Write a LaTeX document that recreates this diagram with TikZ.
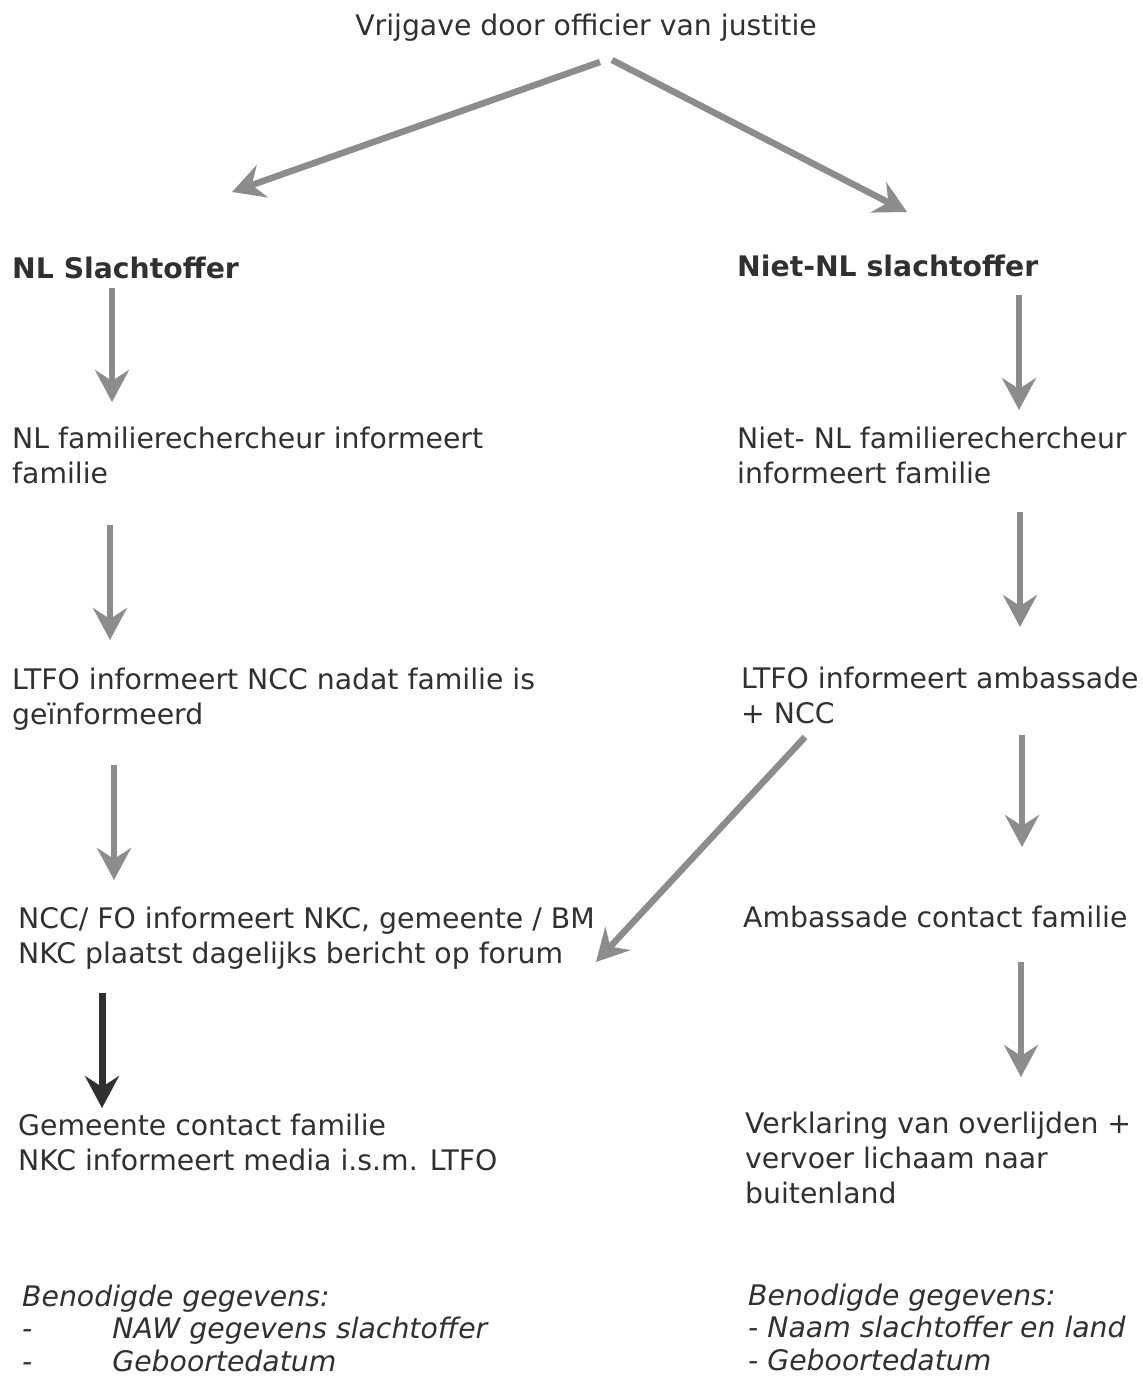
\documentclass[tikz,border=0pt]{standalone}
\usepackage{fontspec}
\setmainfont{DejaVu Sans}
\usetikzlibrary{arrows.meta}
\definecolor{ink}{HTML}{303030}
\definecolor{arrgray}{HTML}{8C8C8C}
\newcommand{\bodyfont}{\fontsize{28.3}{35}\selectfont}
\newcommand{\listfont}{\fontsize{28.3}{32.5}\selectfont\itshape}
\newcommand{\lines}[1]{\begin{tabular}[t]{@{}l@{}}#1\end{tabular}}
\begin{document}
\begin{tikzpicture}[x=1pt,y=-1pt,
  txt/.style={anchor=base west,inner sep=0pt,text=ink,font=\bodyfont},
  arr/.style={draw=arrgray,line width=6.5pt,-{Stealth[length=32pt,width=34pt,inset=11pt]}},
  blackarr/.style={draw=ink,line width=7pt,-{Stealth[length=32pt,width=34pt,inset=11pt]}}]
\useasboundingbox (0,0) rectangle (1143,1376);
\renewcommand{\arraystretch}{1}
% title
\node[txt,anchor=base] (title) at (586,35) {Vrijgave door officier van justitie};
% headers
\node[txt,font=\bodyfont\bfseries] (nl) at (12,278) {NL Slachtoffer};
\node[txt,font=\bodyfont\bfseries] (nnl) at (737,276) {Niet-NL slachtoffer};
% left column
\node[txt] (l1) at (12,448) {\lines{NL familierechercheur informeert\\familie}};
\node[txt] (l2) at (12,689) {\lines{LTFO informeert NCC nadat familie is\\geïnformeerd}};
\node[txt] (l3) at (18,928) {\lines{NCC/ FO informeert NKC, gemeente / BM\\NKC plaatst dagelijks bericht op forum}};
\node[txt] (l4) at (18,1135) {\lines{Gemeente contact familie\\NKC informeert media i.s.m. LTFO}};
\node[txt,font=\listfont] (l5) at (22,1306) {\lines{Benodigde gegevens:\\-\hspace{80pt}NAW gegevens slachtoffer\\-\hspace{80pt}Geboortedatum}};
% right column
\node[txt] (r1) at (737,448) {\lines{Niet- NL familierechercheur\\informeert familie}};
\node[txt] (r2) at (741,688) {\lines{LTFO informeert ambassade\\+ NCC}};
\node[txt] (r3) at (743,927) {Ambassade contact familie};
\node[txt] (r4) at (745,1133) {\lines{Verklaring van overlijden +\\vervoer lichaam naar\\buitenland}};
\node[txt,font=\listfont] (r5) at (748,1305) {\lines{Benodigde gegevens:\\- Naam slachtoffer en land\\- Geboortedatum}};
% arrow end points
\coordinate (tL) at (600,62);  \coordinate (hL) at (232,192);
\coordinate (tR) at (612,60);  \coordinate (hR) at (907,212);
\coordinate (a1s) at (112,288); \coordinate (a1e) at (112,402);
\coordinate (a2s) at (110,525); \coordinate (a2e) at (110,640);
\coordinate (a3s) at (114,765); \coordinate (a3e) at (114,880);
\coordinate (a4s) at (102,993); \coordinate (a4e) at (102,1108);
\coordinate (b1s) at (1019,295); \coordinate (b1e) at (1019,410);
\coordinate (b2s) at (1020,512); \coordinate (b2e) at (1020,627);
\coordinate (b3s) at (1022,735); \coordinate (b3e) at (1022,847);
\coordinate (b4s) at (1021,962); \coordinate (b4e) at (1021,1077);
\coordinate (ds) at (805,737); \coordinate (de) at (596,962);
% arrows
\draw[arr] (tL) -- (hL);
\draw[arr] (tR) -- (hR);
\draw[arr] (a1s) -- (a1e);
\draw[arr] (a2s) -- (a2e);
\draw[arr] (a3s) -- (a3e);
\draw[blackarr] (a4s) -- (a4e);
\draw[arr] (b1s) -- (b1e);
\draw[arr] (b2s) -- (b2e);
\draw[arr] (b3s) -- (b3e);
\draw[arr] (b4s) -- (b4e);
\draw[arr] (ds) -- (de);
\end{tikzpicture}
\end{document}
